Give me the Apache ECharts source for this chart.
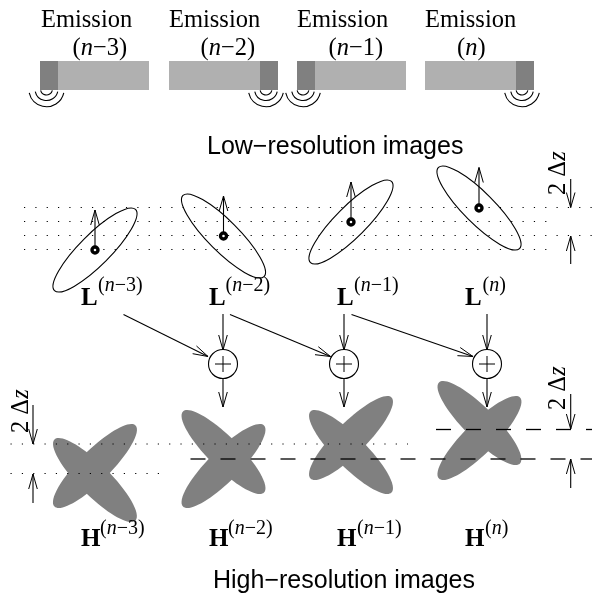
<!DOCTYPE html>
<html>
<head>
<meta charset="utf-8">
<style>
html,body{margin:0;padding:0;background:#fff}
#chart{width:592px;height:597px}
</style>
<script src="https://cdn.jsdelivr.net/npm/echarts@6/dist/echarts.min.js"></script>
</head>
<body>
<div id="chart"></div>
<script>
// emission bars: [left, right, darkLeft, darkRight]
var emissionBars = [[40,149,40,58],[169,278,260,278],[297,406,297,315],[425,534,516,534]]
var barTop = 61, barBottom = 90
var rippleX = [46.5,266,303,522]
var rippleY = 89
var rippleR = [6,11.5,17.7]

var emissionX = [41,169,297,425]
var emissionIndexX = [72.5,200.5,328.5,457]
var indexText = ['\u22123','\u22122','\u22121','']

// low resolution ellipses: [cx, cy, lean]  lean 1 is "/", -1 is "\"
var lowEllipses = [[95,250,1],[223.5,236,-1],[351,222,1],[479,208,-1]]
var lowArrows = [[95,250,95,210],[223.5,236,223.5,196],[351,222,351,182],[479,208,479,167.5]]

// dotted rows: [x0, x1, y]
var dottedRows = [[24,592,207.5],[24,547,221.5],[24,592,235.5],[24,547,249.5],[10.5,408,444],[10.5,160,473.5]]
// dashed rows
var dashedRows = [[190.5,592,459],[436,592,429.5]]

// high resolution blobs, two ellipses each
var highEllipses = [
  [95,466,1],[95,480,-1],
  [223.5,466,1],[223.5,452,-1],
  [351,438,1],[351,452,-1],
  [479.5,438,1],[479.5,423,-1]
]

var plusCircles = [[223,364],[344,364],[487,364]]
var flowArrows = [
  [223,314,223,350],[344,314,344,350],[487,314,487,350],
  [223,379,223,407],[344,379,344,407],[487,379,487,407],
  [123.5,314.5,208,356.5],[230,314.5,330.5,356.5],[351.5,314.5,473,356.5]
]
var deltaArrows = [
  [570.7,179,570.7,207.5],[570.7,264,570.7,236],
  [570.7,394,570.7,429],[570.7,488,570.7,459],
  [33,405,33,444],[33,503,33,474]
]
var deltaLabels = [[29,433],[566,195],[566,410]]

var lowBoldX = [81,209,337,465]
var lowSupX = [98,225.5,354,482.5]
var highBoldX = [81,209,337,465]
var highSupX = [100,228,357,485]

var SERIF = '"Liberation Serif"', SANS = '"Liberation Sans"'
var richFonts = function(size){
  return {
    a:{fontFamily:SERIF,fontSize:size,fill:'#000'},
    b:{fontFamily:SERIF,fontSize:size,fontStyle:'italic',fill:'#000'}
  }
}
var indexRich = function(i){ return '{a|(}{b|n}{a|'+indexText[i]+')}' }

// plain text items, y is the baseline
var textItems = []
emissionX.forEach(function(x){ textItems.push({x:x,y:28,t:'Emission',font:SERIF,size:24.5}) })
emissionIndexX.forEach(function(x,i){ textItems.push({x:x,y:56,t:indexRich(i),rich:richFonts(24.5),size:24.5}) })
lowBoldX.forEach(function(x){ textItems.push({x:x,y:306,t:'L',font:SERIF,size:25,bold:true}) })
lowSupX.forEach(function(x,i){ textItems.push({x:x,y:291,t:indexRich(i),rich:richFonts(20),size:20}) })
highBoldX.forEach(function(x){ textItems.push({x:x,y:547,t:'H',font:SERIF,size:25,bold:true}) })
highSupX.forEach(function(x,i){ textItems.push({x:x,y:534,t:indexRich(i),rich:richFonts(20),size:20}) })
textItems.push({x:207,y:154,t:'Low\u2212resolution images',font:SANS,size:25})
textItems.push({x:213,y:588,t:'High\u2212resolution images',font:SANS,size:25})

var myChart = echarts.init(document.getElementById('chart'))

function px(api,x,y){ return api.coord([x,y]) }

function arrowShape(api,a){
  var p0 = px(api,a[0],a[1]), p1 = px(api,a[2],a[3])
  var dx = p1[0]-p0[0], dy = p1[1]-p0[1], len = Math.sqrt(dx*dx+dy*dy)
  var ux = dx/len, uy = dy/len, headLen = 15, headW = 4.3
  var b1 = [p1[0]-ux*headLen-uy*headW, p1[1]-uy*headLen+ux*headW]
  var b2 = [p1[0]-ux*headLen+uy*headW, p1[1]-uy*headLen-ux*headW]
  return {type:'group',children:[
    {type:'line',shape:{x1:p0[0],y1:p0[1],x2:p1[0],y2:p1[1]},style:{stroke:'#000',lineWidth:1.1}},
    {type:'polyline',shape:{points:[b1,p1,b2]},style:{stroke:'#000',fill:null,lineWidth:1}}
  ]}
}

function ellipseShape(api,e,style){
  var p = px(api,e[0],e[1])
  var sz = api.size([1,1])
  return {type:'ellipse',x:p[0],y:p[1],rotation:e[2]*Math.PI/4,
    shape:{cx:0,cy:0,rx:57.3*sz[0],ry:15.5*sz[0]},style:style}
}

function customSeries(list,z,draw){
  return {
    type:'custom',
    coordinateSystem:'cartesian2d',
    silent:true,
    z:z,
    clip:false,
    data:list.map(function(d,i){ return [i] }),
    encode:{x:0,y:0},
    renderItem:function(params,api){ return draw(list[params.dataIndex],api,params.dataIndex) }
  }
}

var option = {
  animation:false,
  backgroundColor:'#fff',
  grid:{left:0,right:0,top:0,bottom:0},
  xAxis:{type:'value',min:0,max:592,show:false},
  yAxis:{type:'value',min:0,max:597,inverse:true,show:false},
  series:[
    // ripples go under the bars
    customSeries(rippleX,1,function(x,api){
      var p = px(api,x,rippleY)
      return {type:'group',children:rippleR.map(function(r){
        return {type:'arc',shape:{cx:p[0],cy:p[1],r:r,startAngle:Math.PI*0.07,endAngle:Math.PI*0.93,clockwise:true},
          style:{stroke:'#000',fill:null,lineWidth:1.1}}
      })}
    }),
    customSeries(emissionBars,2,function(b,api){
      var a = px(api,b[0],barTop), c = px(api,b[1],barBottom)
      var d = px(api,b[2],barTop), f = px(api,b[3],barBottom)
      return {type:'group',children:[
        {type:'rect',shape:{x:a[0],y:a[1],width:c[0]-a[0],height:c[1]-a[1]},style:{fill:'#b0b0b0'}},
        {type:'rect',shape:{x:d[0],y:d[1],width:f[0]-d[0],height:f[1]-d[1]},style:{fill:'#808080'}}
      ]}
    }),
    customSeries(highEllipses,3,function(e,api){
      return ellipseShape(api,e,{fill:'#808080'})
    }),
    customSeries(dottedRows,4,function(r,api){
      var a = px(api,r[0],r[2]), b = px(api,r[1],r[2])
      return {type:'line',shape:{x1:a[0],y1:a[1],x2:b[0],y2:b[1]},
        style:{stroke:'#000',lineWidth:1,lineDash:[1.2,10.13]}}
    }),
    customSeries(dashedRows,5,function(r,api){
      var a = px(api,r[0],r[2]), b = px(api,r[1],r[2])
      return {type:'line',shape:{x1:a[0],y1:a[1],x2:b[0],y2:b[1]},
        style:{stroke:'#000',lineWidth:1.3,lineDash:[15,15]}}
    }),
    customSeries(lowEllipses,6,function(e,api){
      return ellipseShape(api,e,{fill:null,stroke:'#000',lineWidth:1.1})
    }),
    customSeries(lowArrows.concat(flowArrows,deltaArrows),7,function(a,api){
      return arrowShape(api,a)
    }),
    // centre marks of the low resolution ellipses
    customSeries(lowEllipses,8,function(e,api){
      var p = px(api,e[0],e[1])
      return {type:'circle',shape:{cx:p[0],cy:p[1],r:3},style:{fill:'#fff',stroke:'#000',lineWidth:3.4}}
    }),
    customSeries(plusCircles,8,function(c,api){
      var p = px(api,c[0],c[1])
      return {type:'group',children:[
        {type:'circle',shape:{cx:p[0],cy:p[1],r:14.5},style:{fill:'#fff',stroke:'#000',lineWidth:1.1}},
        {type:'line',shape:{x1:p[0]-8,y1:p[1],x2:p[0]+8,y2:p[1]},style:{stroke:'#000',lineWidth:1}},
        {type:'line',shape:{x1:p[0],y1:p[1]-8,x2:p[0],y2:p[1]+8},style:{stroke:'#000',lineWidth:1}}
      ]}
    }),
    customSeries(textItems,9,function(t,api){
      var p = px(api,t.x,t.y)
      var style = {x:p[0],y:p[1],text:t.t,textAlign:'left',verticalAlign:'bottom',fill:'#000'}
      if(t.rich){
        style.rich = t.rich
        style.y = p[1]+t.size*0.22
      }else{
        style.font = (t.bold?'bold ':'')+t.size+'px '+t.font
        style.y = p[1]+t.size*0.22
      }
      return {type:'text',style:style}
    }),
    customSeries(deltaLabels,9,function(d,api){
      var p = px(api,d[0],d[1])
      return {type:'text',x:p[0],y:p[1],rotation:Math.PI/2,
        style:{x:0,y:24.5*0.22,text:'{a|2 \u0394}{b|z}',rich:richFonts(24.5),textAlign:'left',verticalAlign:'bottom',fill:'#000'}}
    })
  ]
}
myChart.setOption(option)
window.addEventListener('resize',function(){ myChart.resize() })
</script>
</body>
</html>
